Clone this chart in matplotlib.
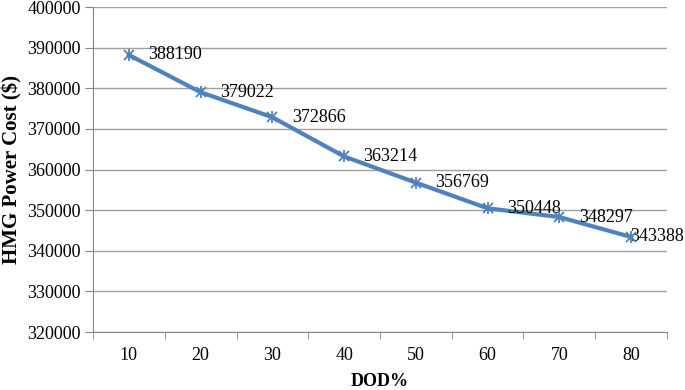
import matplotlib
matplotlib.use("Agg")
import matplotlib.pyplot as plt

dod = ["10", "20", "30", "40", "50", "60", "70", "80"]
cost = [388190, 379022, 372866, 363214, 356769, 350448, 348297, 343388]

plt.rcParams['font.family'] = ['Liberation Serif', 'DejaVu Serif']

fig = plt.figure(figsize=(6.85, 3.9), dpi=100)
ax = fig.add_axes([0.1358, 0.1487, 0.8379, 0.8333])

xs = list(range(len(dod)))
ax.plot(xs, cost, color="#4F81BD", linewidth=3, zorder=3)
ax.plot(xs, cost, linestyle="none", marker="x", markersize=7,
        markeredgewidth=1.3, color="#4F81BD", zorder=4)
ax.plot(xs, cost, linestyle="none", marker="|", markersize=8,
        markeredgewidth=1.3, color="#4F81BD", zorder=4)
for x, v in zip(xs, cost):
    if x == xs[-1]:
        # last label is pushed inside the figure edge
        ax.annotate(str(v), xy=(x, v), xytext=(0.999, 0),
                    textcoords=("figure fraction", "offset points"),
                    ha="right", va="center", fontsize=13)
    else:
        ax.annotate(str(v), xy=(x, v), xytext=(14, 0), textcoords="offset points",
                    ha="left", va="center", fontsize=13)

ax.set_xlim(-0.5, len(dod) - 0.5)
ax.set_ylim(320000, 400000)
ax.set_yticks(range(320000, 400001, 10000))
ax.yaxis.grid(True, color="#A0A0A0", linewidth=1)
ax.set_axisbelow(True)

ax.set_xticks(xs)
ax.set_xticklabels(dod, fontsize=13)
ax.set_xticks([i - 0.5 for i in range(len(dod) + 1)], minor=True)
ax.tick_params(axis="x", which="major", length=0, pad=11)
ax.tick_params(axis="x", which="minor", length=5, color="#868686", direction="out")
ax.tick_params(axis="y", length=6, color="#868686", labelsize=13, pad=3)

for s in ["top", "right"]:
    ax.spines[s].set_visible(False)
for s in ["left", "bottom"]:
    ax.spines[s].set_color("#868686")

ax.set_xlabel("DOD%", fontsize=13, fontweight="bold", labelpad=6)
ax.set_ylabel("HMG Power Cost ($)", fontsize=15, fontweight="bold", labelpad=3)

fig.savefig("out.png", dpi=100)
